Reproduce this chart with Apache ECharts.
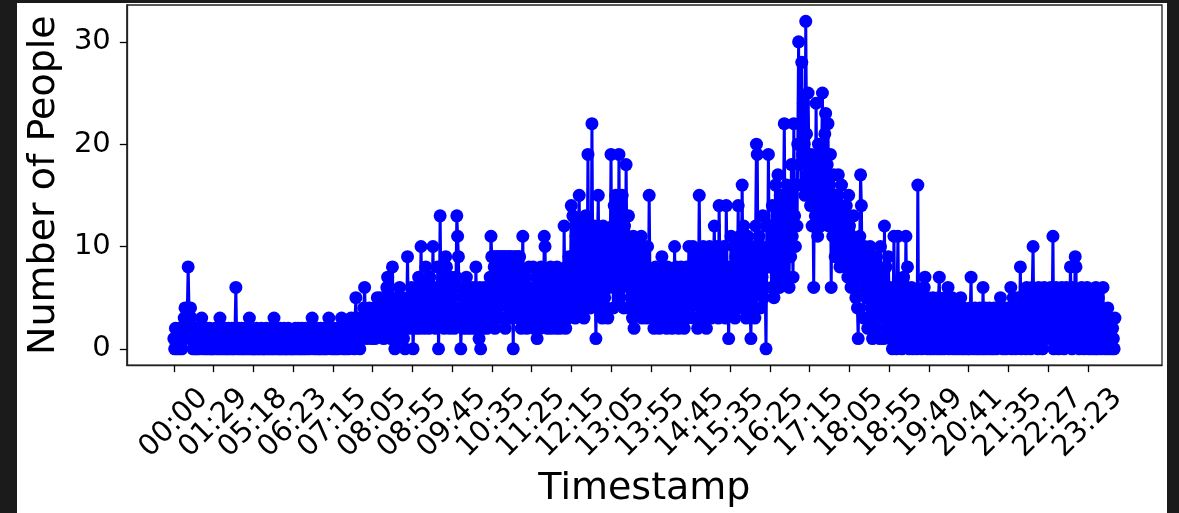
<!DOCTYPE html>
<html>
<head>
<meta charset="utf-8">
<script src="https://cdn.jsdelivr.net/npm/echarts@6/dist/echarts.min.js"></script>
<style>
  html, body { margin: 0; padding: 0; background: #1b1b1b; }
  #main { position: absolute; left: 17px; top: 3px; width: 1150px; height: 510px; background: #fff; }
</style>
</head>
<body>
<div id="main"></div>
<script>
// tick labels on the x axis, one every tickStep rows
const tickLabels = ['00:00','01:29','05:18','06:23','07:15','08:05','08:55','09:45','10:35','11:25',
    '12:15','13:05','13:55','14:45','15:35','16:25','17:15','18:05','18:55','19:49',
    '20:41','21:35','22:27','23:23'];
const tickStep = 50;

// number of people per timestamp (one row per minute)
const counts = [
    // 00:00
    1,0,2,1,0,1,2,0,1,2, 0,1,2,3,4,2,1,4,8,4, 2,4,3,1,0,
    1,2,0,1,0,2,1,0,1,2, 3,1,0,2,1,0,1,2,0,1, 2,0,1,0,1,
    // 01:29
    0,1,2,1,0,2,1,0,3,1, 0,2,1,0,1,2,0,1,0,2, 1,0,1,2,0,
    1,0,2,6,1,0,1,2,0,1, 2,0,1,0,2,1,0,1,2,0, 3,1,0,1,0,
    // 05:18
    1,0,0,1,2,0,1,0,1,0, 2,1,0,0,1,0,2,1,0,1, 0,1,2,0,1,
    0,3,1,0,2,1,0,1,0,2, 0,1,0,1,2,0,0,1,0,2, 1,0,1,0,1,
    // 06:23
    0,1,0,2,1,0,1,2,0,1, 0,2,1,0,1,0,2,1,0,1, 2,0,1,2,3,
    1,0,2,1,0,1,2,0,1,0, 2,1,0,1,2,0,1,0,2,1, 3,2,1,0,1,
    // 07:15
    1,0,2,1,0,1,2,0,1,2, 1,3,2,0,1,2,0,1,2,1, 0,2,1,3,2,
    1,2,0,3,5,2,1,3,2,0, 2,1,3,2,4,6,3,2,1,3, 2,4,3,2,1,
    // 08:05
    3,2,4,1,3,2,5,3,2,4, 5,2,3,4,1,2,4,3,6,7, 3,2,4,1,5,
    8,3,4,0,2,5,3,1,4,6, 2,3,5,4,1,3,0,2,4,9, 3,5,2,4,6,
    // 08:55
    4,0,3,5,2,6,4,3,7,2, 5,10,4,3,6,2,5,8,3,4, 6,2,7,4,3,
    5,10,4,6,2,5,3,8,0,4, 13,6,3,5,7,2,4,9,8,3, 5,6,2,4,7,
    // 09:45
    5,3,6,2,4,7,13,11,9,4, 6,0,3,5,2,6,4,3,7,2, 5,4,3,6,2,
    4,5,3,6,2,8,4,5,3,1, 6,0,3,5,2,4,6,3,5,2, 4,6,3,7,11,
    // 10:35
    9,3,9,8,2,9,9,4,9,6, 9,9,3,9,5,9,9,2,9,7, 9,4,9,9,3,
    9,6,0,9,4,9,8,9,3,9, 9,5,2,6,11,4,3,7,5,2, 6,4,8,3,5,
    // 11:25
    5,3,8,2,6,4,7,1,5,3, 6,2,8,4,5,3,11,10,4,6, 2,7,3,5,8,
    2,6,4,7,3,5,2,8,4,3, 6,2,5,7,4,3,12,5,2,8, 6,3,9,4,7,
    // 12:15
    14,4,13,6,9,3,11,5,8,12, 15,6,10,4,12,7,3,9,13,5, 8,19,6,10,4,
    7,22,9,5,12,6,1,8,11,15, 4,10,6,9,3,12,7,5,10,4, 8,3,11,6,9,
    // 13:05
    19,7,12,4,14,9,15,6,11,5, 19,8,14,6,15,10,4,12,7,18, 9,4,13,6,10,
    5,8,3,11,2,4,9,6,6,10, 4,8,5,11,3,7,9,4,6,8, 3,10,5,15,7,
    // 13:55
    6,4,7,3,2,5,8,3,6,4, 7,2,5,8,9,4,6,3,7,5, 2,8,4,6,3,
    7,5,2,6,4,10,3,8,5,6, 2,7,4,8,3,6,5,2,7,4, 8,3,6,10,5,
    // 14:45
    4,8,6,10,3,7,9,5,8,2, 6,15,7,4,9,6,10,3,8,5, 2,7,9,4,10,
    6,3,8,5,9,12,4,7,10,6, 3,14,8,5,9,7,4,10,6,3, 14,8,5,1,7,
    // 15:35
    5,11,4,8,6,10,3,9,5,7, 14,6,11,4,9,16,7,12,5,10, 3,8,11,6,9,
    4,1,7,10,5,9,3,12,20,19, 6,11,8,4,10,7,13,5,9,6, 0,12,8,19,10,
    // 16:25
    8,12,6,14,9,5,11,16,7,13, 17,10,6,15,9,12,8,14,22,11, 7,16,10,13,6,
    15,9,18,11,7,22,13,10,16,12, 20,30,18,22,16,28,19,24,20,15, 32,21,17,25,18,
    // 17:15
    16,14,19,12,15,6,18,13,24,15, 11,20,14,17,12,19,25,16,13,21, 23,14,18,22,12,
    16,19,6,15,11,17,13,9,15,12, 10,17,14,8,12,16,11,9,13,10, 8,14,11,7,15,
    // 18:05
    12,9,6,11,8,13,7,10,5,9, 4,1,8,11,17,14,6,9,3,10, 7,5,9,2,8,
    6,10,4,8,1,7,3,9,5,2, 8,4,6,1,10,3,7,5,1,12, 4,8,2,6,9,
    // 18:55
    3,6,1,4,0,5,11,2,4,0, 6,11,3,1,5,2,0,4,7,1, 3,11,5,8,2,
    0,4,1,6,2,0,3,5,1,4, 0,16,2,5,1,3,0,4,2,6, 7,1,3,0,5,
    // 19:49
    1,4,0,3,2,5,0,2,4,1, 3,0,5,7,2,0,4,1,3,0, 5,2,1,4,6,
    0,3,1,2,5,0,4,1,3,0, 2,4,1,0,3,5,2,0,1,4, 0,3,2,1,0,
    // 20:41
    2,0,4,7,1,3,0,2,4,1, 0,3,2,0,4,1,3,0,6,2, 0,4,1,3,0,
    2,4,1,0,3,2,0,4,1,3, 0,2,4,1,3,5,3,2,0,4, 1,3,0,2,4,
    // 21:35
    3,1,4,6,0,2,5,1,3,0, 4,2,5,1,3,8,0,4,2,5, 1,3,0,6,2,
    4,1,5,0,3,6,10,2,4,1, 5,3,0,6,2,4,1,5,0,3, 6,2,4,1,5,
    // 22:27
    5,2,4,6,1,3,11,0,5,2, 6,1,4,0,3,5,2,6,1,4, 0,5,3,6,2,
    4,1,3,8,5,0,6,2,4,9, 8,1,3,5,0,4,2,6,1,3, 0,5,2,4,6,
    // 23:23
    2,0,5,1,3,0,4,2,1,0, 6,3,0,5,2,1,4,0,3,6, 1,2,0,3,1,
    4,0,2,1,3,0,2,1,0,3
];
const yTicks = [0, 10, 20, 30];

let chart = echarts.init(document.getElementById('main'));

// matplotlib-like 5% margins around the data
let n = counts.length - 1;
let ymax = Math.max.apply(null, counts);
let xTickVals = tickLabels.map(function (_, k) { return k * tickStep; });
// labels are split over two overlaid axes so echarts does not drop the crowded ones
let evenTicks = xTickVals.filter(function (_, k) { return k % 2 === 0; });
let oddTicks = xTickVals.filter(function (_, k) { return k % 2 === 1; });

const font = 'DejaVu Sans';
function tickLabel(custom) {
    return {
        customValues: custom,
        showMinLabel: true,
        showMaxLabel: true,
        hideOverlap: false,
        rotate: 45,
        align: 'center',
        verticalAlign: 'middle',
        margin: 58,
        fontFamily: font, fontSize: 29, color: '#000',
        formatter: function (v) { return tickLabels[Math.round(v / tickStep)]; }
    };
}

let option = {
    animation: false,
    grid: {
        left: 109, right: 5, top: 2, bottom: 147,
        show: true, borderColor: '#222', borderWidth: 1.3
    },
    xAxis: [{
        type: 'value',
        min: -0.05 * n,
        max: n * 1.05,
        name: 'Timestamp',
        nameLocation: 'middle',
        nameGap: 102,
        nameTextStyle: { fontFamily: font, fontSize: 38, color: '#000' },
        axisLine: { show: true, onZero: false, lineStyle: { color: '#222', width: 1.3 } },
        axisTick: { show: true, length: 7, lineStyle: { color: '#000', width: 1.3 }, customValues: xTickVals },
        axisLabel: tickLabel(evenTicks),
        splitLine: { show: false }
    }, {
        type: 'value',
        position: 'bottom',
        min: -0.05 * n,
        max: n * 1.05,
        axisLine: { show: false, onZero: false },
        axisTick: { show: false },
        axisLabel: tickLabel(oddTicks),
        splitLine: { show: false }
    }],
    yAxis: {
        type: 'value',
        min: -0.05 * ymax,
        max: ymax * 1.05,
        name: 'Number of People',
        nameLocation: 'middle',
        nameGap: 58,
        nameTextStyle: { fontFamily: font, fontSize: 38, color: '#000' },
        axisLine: { show: true, onZero: false, lineStyle: { color: '#222', width: 1.3 } },
        axisTick: { show: true, length: 7, lineStyle: { color: '#000', width: 1.3 }, customValues: yTicks },
        axisLabel: {
            customValues: yTicks,
            showMinLabel: true,
            showMaxLabel: true,
            margin: 16,
            fontFamily: font, fontSize: 29, color: '#000'
        },
        splitLine: { show: false }
    },
    series: [{
        type: 'line',
        xAxisIndex: 0,
        data: counts.map(function (v, i) { return [i, v]; }),
        color: '#0000ff',
        lineStyle: { width: 3, color: '#0000ff' },
        symbol: 'circle',
        symbolSize: 13,
        showAllSymbol: true,
        itemStyle: { color: '#0000ff' }
    }]
};
chart.setOption(option);
</script>
</body>
</html>
